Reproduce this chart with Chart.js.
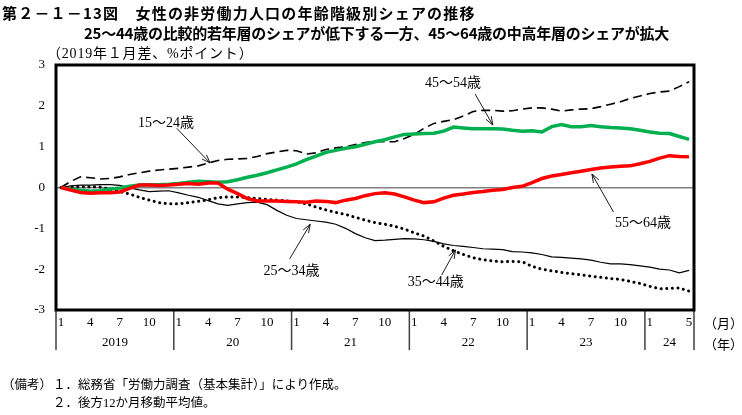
<!DOCTYPE html>
<html lang="ja">
<head>
    <meta charset="UTF-8">
    <title>第２－１－13図</title>
    <style>
        body {
            margin: 0;
            padding: 0;
            background: #fff;
        }
        .wrap {
            position: relative;
            width: 742px;
            height: 415px;
            overflow: hidden;
        }
        .txt {
            position: absolute;
            white-space: nowrap;
            color: #000;
        }
        .gothic {
            font-family: "Noto Sans CJK JP", sans-serif;
            font-weight: bold;
            font-size: 15px;
        }
        .serif {
            font-family: "Liberation Serif", "Noto Sans CJK JP", serif;
            font-size: 13px;
        }
        canvas {
            position: absolute;
            left: 0;
            top: 0;
        }
    </style>
    <script src="https://cdn.jsdelivr.net/npm/chart.js"></script>
</head>
<body>
    <div class="wrap">
        <canvas id="myChart" width="742" height="415"></canvas>
        <div class="txt gothic" style="left:2px; top:2px; letter-spacing:1.2px;">第２－１－13図　女性の非労働力人口の年齢階級別シェアの推移</div>
        <div class="txt gothic" style="left:84px; top:22px; letter-spacing:-0.25px;">25～44歳の比較的若年層のシェアが低下する一方、45～64歳の中高年層のシェアが拡大</div>
        <div class="txt serif" style="left:47px; top:42px; font-size:14px; letter-spacing:0.8px;">（2019年１月差、%ポイント）</div>
        <div class="txt serif" style="left:704px; top:313px;">（月）</div>
        <div class="txt serif" style="left:704px; top:334px;">（年）</div>
        <div class="txt serif" style="left:2px; top:374px; font-size:12.5px;">（備考）</div>
        <div class="txt serif" style="left:53px; top:374px; font-size:12.5px;">１．総務省「労働力調査（基本集計）」により作成。</div>
        <div class="txt serif" style="left:53px; top:392px; font-size:12.5px;">２．後方12か月移動平均値。</div>
    </div>

    <script>
        // categories: 2019年1月 ～ 2024年5月
        const years = [2019, 2020, 2021, 2022, 2023, 2024];
        const yearLabels = ['2019', '20', '21', '22', '23', '24'];
        const lastMonth = 5;
        const monthTicks = [1, 4, 7, 10];

        // 2019年1月差（%ポイント）
        const age15_24 = [0, 0.15, 0.26, 0.24, 0.21, 0.22, 0.26, 0.32, 0.36, 0.40, 0.43, 0.45,
            0.47, 0.50, 0.53, 0.60, 0.66, 0.69, 0.70, 0.71, 0.76, 0.83, 0.87, 0.91,
            0.90, 0.82, 0.85, 0.93, 0.97, 1.00, 1.05, 1.10, 1.13, 1.12, 1.12, 1.20,
            1.30, 1.45, 1.57, 1.62, 1.66, 1.75, 1.86, 1.89, 1.89, 1.87, 1.88, 1.92,
            1.95, 1.95, 1.92, 1.87, 1.90, 1.92, 1.93, 1.98, 2.04, 2.10, 2.18, 2.24,
            2.30, 2.34, 2.36, 2.47, 2.59];
        const age25_34 = [0, 0.04, 0.06, 0.06, 0.07, 0.07, 0.05, -0.01, -0.06, -0.10, -0.09, -0.08,
            -0.13, -0.19, -0.24, -0.32, -0.40, -0.44, -0.40, -0.37, -0.36, -0.42, -0.56, -0.68,
            -0.76, -0.79, -0.82, -0.85, -0.90, -1.00, -1.13, -1.23, -1.30, -1.29, -1.27, -1.25,
            -1.26, -1.28, -1.32, -1.38, -1.42, -1.44, -1.47, -1.50, -1.51, -1.52, -1.57, -1.58,
            -1.60, -1.64, -1.70, -1.71, -1.73, -1.75, -1.78, -1.83, -1.87, -1.87, -1.89, -1.92,
            -1.95, -2.00, -2.02, -2.09, -2.03];
        const age35_44 = [0, 0.01, 0.02, 0.02, 0.01, -0.04, -0.10, -0.16, -0.24, -0.31, -0.37, -0.40,
            -0.40, -0.37, -0.34, -0.30, -0.25, -0.23, -0.23, -0.25, -0.27, -0.29, -0.31, -0.33,
            -0.35, -0.40, -0.48, -0.55, -0.61, -0.66, -0.73, -0.80, -0.86, -0.90, -0.95, -1.02,
            -1.11, -1.19, -1.31, -1.44, -1.55, -1.64, -1.72, -1.77, -1.80, -1.82, -1.81, -1.82,
            -1.93, -2.00, -2.04, -2.08, -2.11, -2.14, -2.17, -2.20, -2.23, -2.25, -2.30, -2.35,
            -2.42, -2.48, -2.47, -2.46, -2.54];
        const age45_54 = [0, -0.04, -0.07, -0.09, -0.08, -0.04, -0.01, 0.03, 0.06, 0.07, 0.07, 0.08,
            0.10, 0.13, 0.15, 0.14, 0.13, 0.14, 0.19, 0.25, 0.30, 0.36, 0.43, 0.50,
            0.58, 0.68, 0.77, 0.86, 0.91, 0.96, 1.00, 1.06, 1.12, 1.17, 1.24, 1.30,
            1.31, 1.32, 1.33, 1.38, 1.48, 1.46, 1.44, 1.44, 1.44, 1.43, 1.40, 1.38,
            1.39, 1.36, 1.49, 1.54, 1.49, 1.49, 1.52, 1.49, 1.47, 1.46, 1.44, 1.40,
            1.36, 1.33, 1.32, 1.25, 1.18];
        const age55_64 = [0, -0.06, -0.12, -0.14, -0.13, -0.13, -0.11, -0.02, 0.06, 0.06, 0.05, 0.06,
            0.08, 0.10, 0.08, 0.11, 0.11, -0.04, -0.15, -0.27, -0.33, -0.33, -0.33, -0.34,
            -0.35, -0.36, -0.33, -0.34, -0.37, -0.31, -0.27, -0.20, -0.15, -0.13, -0.16, -0.23,
            -0.31, -0.37, -0.35, -0.26, -0.19, -0.16, -0.12, -0.10, -0.07, -0.05, 0.00, 0.03,
            0.12, 0.22, 0.28, 0.32, 0.36, 0.40, 0.44, 0.48, 0.50, 0.52, 0.53, 0.58,
            0.64, 0.72, 0.78, 0.76, 0.75];

        const labels = [];
        const monthOf = [];
        years.forEach((y, k) => {
            const n = k === years.length - 1 ? lastMonth : 12;
            for (let m = 1; m <= n; m++) {
                labels.push(y + '/' + m);
                monthOf.push(m);
            }
        });
        const lastYearStart = labels.length - lastMonth;

        // series labels with arrows: [text pos], [arrow from], [arrow to] in (month index, value)
        const callouts = [
            { text: '15～24歳', at: [10.7, 1.57], from: [11.8, 1.45], to: [15.2, 0.60] },
            { text: '45～54歳', at: [39.95, 2.56], from: [42.2, 2.29], to: [44.0, 1.53] },
            { text: '25～34歳', at: [23.5, -2.05], from: [23.3, -1.75], to: [25.4, -0.90] },
            { text: '35～44歳', at: [38.2, -2.32], from: [38.8, -2.14], to: [40.2, -1.53] },
            { text: '55～64歳', at: [59.3, -0.87], from: [56.3, -0.60], to: [54.1, 0.33] }
        ];

        const serif = '"Liberation Serif", "Noto Sans CJK JP", serif';

        const framePlugin = {
            id: 'frame',
            afterDraw(chart) {
                const ctx = chart.ctx;
                const a = chart.chartArea;
                const xs = chart.scales.x;
                const ys = chart.scales.y;
                const slot = xs.getPixelForValue(1) - xs.getPixelForValue(0);
                ctx.save();

                // year separators and year labels
                ctx.strokeStyle = '#404040';
                ctx.lineWidth = 1.5;
                ctx.fillStyle = '#000';
                ctx.font = '13px ' + serif;
                ctx.textAlign = 'center';
                ctx.textBaseline = 'middle';
                let start = 0;
                years.forEach((y, k) => {
                    const n = k === years.length - 1 ? lastMonth : 12;
                    const x0 = xs.getPixelForValue(start) - slot / 2;
                    const x1 = xs.getPixelForValue(start + n - 1) + slot / 2;
                    ctx.beginPath();
                    ctx.moveTo(x0, a.bottom);
                    ctx.lineTo(x0, a.bottom + 40);
                    if (k === years.length - 1) {
                        ctx.moveTo(x1, a.bottom);
                        ctx.lineTo(x1, a.bottom + 40);
                    }
                    ctx.stroke();
                    ctx.fillText(yearLabels[k], (x0 + x1) / 2, a.bottom + 33);
                    start += n;
                });

                // callouts
                ctx.strokeStyle = '#000';
                ctx.lineWidth = 0.9;
                ctx.font = '14px ' + serif;
                callouts.forEach(c => {
                    const tx = xs.getPixelForValue(c.at[0]), ty = ys.getPixelForValue(c.at[1]);
                    ctx.fillText(c.text, tx, ty);
                    const x0 = xs.getPixelForValue(c.from[0]), y0 = ys.getPixelForValue(c.from[1]);
                    const x1 = xs.getPixelForValue(c.to[0]), y1 = ys.getPixelForValue(c.to[1]);
                    const ang = Math.atan2(y1 - y0, x1 - x0);
                    const h = 9, sp = 0.35;
                    ctx.beginPath();
                    ctx.moveTo(x0, y0);
                    ctx.lineTo(x1, y1);
                    ctx.moveTo(x1 - h * Math.cos(ang - sp), y1 - h * Math.sin(ang - sp));
                    ctx.lineTo(x1, y1);
                    ctx.lineTo(x1 - h * Math.cos(ang + sp), y1 - h * Math.sin(ang + sp));
                    ctx.stroke();
                });

                // plot frame
                ctx.strokeStyle = '#000';
                ctx.lineWidth = 3;
                ctx.strokeRect(a.left, a.top, a.right - a.left, a.bottom - a.top);
                ctx.restore();
            }
        };

        const ctx = document.getElementById('myChart').getContext('2d');
        const myChart = new Chart(ctx, {
            type: 'line',
            data: {
                labels: labels,
                datasets: [
                    { label: '55～64歳', data: age55_64, borderColor: '#ff0000', borderWidth: 3.5, order: 1 },
                    { label: '45～54歳', data: age45_54, borderColor: '#00b04f', borderWidth: 3.5, order: 2 },
                    { label: '15～24歳', data: age15_24, borderColor: '#000', borderWidth: 1.6, borderDash: [9, 5], order: 3 },
                    { label: '25～34歳', data: age25_34, borderColor: '#000', borderWidth: 1.2, order: 4 },
                    { label: '35～44歳', data: age35_44, borderColor: '#000', borderWidth: 3, borderDash: [0.1, 5.5], borderCapStyle: 'round', order: 5 }
                ]
            },
            options: {
                responsive: false,
                animation: false,
                devicePixelRatio: 1,
                elements: {
                    point: { radius: 0 },
                    line: { tension: 0, fill: false }
                },
                layout: { padding: { top: 65, right: 48, bottom: 0, left: 0 } },
                plugins: {
                    legend: { display: false },
                    tooltip: { enabled: false }
                },
                scales: {
                    x: {
                        type: 'category',
                        offset: true,
                        grid: { display: false, drawTicks: false },
                        border: { display: false },
                        ticks: {
                            autoSkip: false,
                            maxRotation: 0,
                            padding: 5,
                            color: '#000',
                            font: { family: serif, size: 13 },
                            callback: function (value, index) {
                                const m = monthOf[index];
                                if (index >= lastYearStart) {
                                    return (m === 1 || m === lastMonth) ? String(m) : '';
                                }
                                return monthTicks.includes(m) ? String(m) : '';
                            }
                        },
                        afterFit: function (scale) { scale.height = 105; }
                    },
                    y: {
                        min: -3,
                        max: 3,
                        grid: {
                            drawTicks: false,
                            lineWidth: 1.5,
                            color: c => c.tick && c.tick.value === 0 ? '#808080' : 'rgba(0,0,0,0)'
                        },
                        border: { display: false },
                        ticks: {
                            stepSize: 1,
                            padding: 11,
                            color: '#000',
                            font: { family: serif, size: 13 }
                        },
                        afterFit: function (scale) { scale.width = 56; }
                    }
                }
            },
            plugins: [framePlugin]
        });
    </script>
</body>
</html>
